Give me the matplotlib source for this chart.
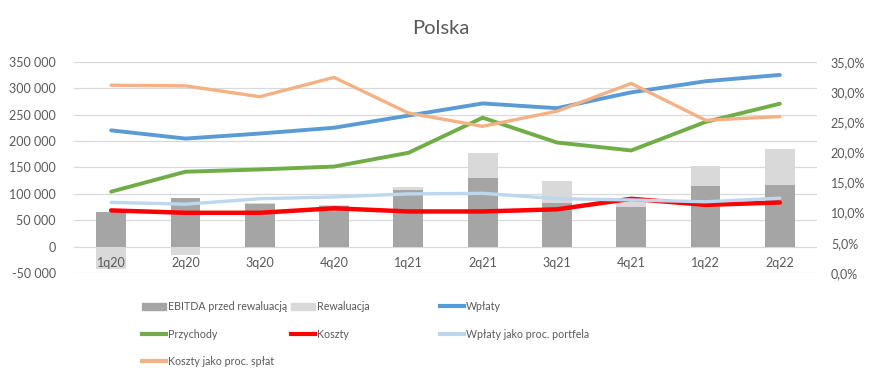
import matplotlib
matplotlib.use("Agg")
import matplotlib.pyplot as plt
import matplotlib.patches as mpatches
import matplotlib.lines as mlines
from matplotlib.ticker import FuncFormatter
import numpy as np

plt.rcParams["font.family"] = ["Lato", "DejaVu Sans"]

TEXT = "#595959"
GRID = "#D9D9D9"
DARK_GREY = "#A5A5A5"
LIGHT_GREY = "#D9D9D9"
BLUE = "#5B9BD5"
GREEN = "#70AD47"
RED = "#FF0000"
LIGHT_BLUE = "#BDD7EE"
ORANGE = "#F4B183"

quarters = ["1q20", "2q20", "3q20", "4q20", "1q21", "2q21", "3q21", "4q21", "1q22", "2q22"]
ebitda = [66000, 92500, 81000, 76000, 108000, 129000, 82500, 75000, 115000, 117000]
rewaluacja = [-42000, -15000, 2000, 2000, 4000, 48500, 42000, 15000, 38000, 68000]
wplaty = [220000, 204500, 214000, 225000, 248000, 271000, 262000, 292000, 313000, 325000]
przychody = [104000, 141700, 146000, 151500, 177500, 244000, 197000, 182000, 236000, 270500]
koszty = [68500, 64000, 64000, 72500, 66500, 66500, 70500, 90500, 79000, 83500]
wplaty_pct = [0.117, 0.114, 0.123, 0.126, 0.131, 0.132, 0.123, 0.121, 0.118, 0.124]
koszty_pct = [0.311, 0.310, 0.292, 0.324, 0.265, 0.243, 0.268, 0.314, 0.253, 0.259]

x = np.arange(len(quarters))
reval_bottom = [e if r > 0 else 0 for e, r in zip(ebitda, rewaluacja)]

fig = plt.figure(figsize=(8.81, 3.85), dpi=100)
ax = fig.add_axes([74 / 881, 1 - 273 / 385, (817 - 74) / 881, (273 - 61.7) / 385])
ax2 = ax.twinx()

ax.bar(x, ebitda, 0.4, color=DARK_GREY, zorder=2)
ax.bar(x, rewaluacja, 0.4, bottom=reval_bottom, color=LIGHT_GREY, zorder=2)
ax.plot(x, wplaty, color=BLUE, lw=2.8, zorder=3, solid_capstyle="round")
ax.plot(x, przychody, color=GREEN, lw=2.8, zorder=3, solid_capstyle="round")
ax.plot(x, koszty, color=RED, lw=3.2, zorder=3, solid_capstyle="round")
ax2.plot(x, wplaty_pct, color=LIGHT_BLUE, lw=2.4, solid_capstyle="round")
ax2.plot(x, koszty_pct, color=ORANGE, lw=2.4, solid_capstyle="round")

ax.set_xlim(-0.5, len(quarters) - 0.5)
ax.set_ylim(-50000, 350000)
ax.set_yticks(np.arange(-50000, 350001, 50000))
ax.yaxis.set_major_formatter(FuncFormatter(lambda v, p: f"{v:,.0f}".replace(",", " ")))
ax2.set_ylim(0, 0.35)
ax2.set_yticks(np.arange(0, 0.3501, 0.05))
ax2.yaxis.set_major_formatter(FuncFormatter(lambda v, p: f"{v * 100:.1f}%".replace(".", ",")))

ax.grid(axis="y", color=GRID, lw=0.9, zorder=0)
ax.set_axisbelow(True)
for a in (ax, ax2):
    for s in a.spines.values():
        s.set_visible(False)
ax.set_xticks(x)
ax.set_xticklabels([])
ax.tick_params(axis="x", length=0)
ax.tick_params(axis="y", length=0, pad=13, labelsize=9, colors=TEXT)
ax2.tick_params(axis="y", length=0, pad=10, labelsize=9, colors=TEXT)

# category labels sit inside the plot area, on top of the bars (Excel style)
for xi, q in zip(x, quarters):
    ax2.text(xi, 0.048, q, transform=ax2.get_xaxis_transform(), ha="center", va="center",
             fontsize=9, color=TEXT, zorder=5)

fig.text(0.5, 1 - 28 / 385, "Polska", ha="center", va="center", fontsize=14.5, color=TEXT)

# legend laid out in three fixed columns like Excel
col1 = [mpatches.Patch(color=DARK_GREY, label="EBITDA przed rewaluacją"),
        mlines.Line2D([], [], color=GREEN, lw=3, label="Przychody"),
        mlines.Line2D([], [], color=ORANGE, lw=3, label="Koszty jako proc. spłat")]
col2 = [mpatches.Patch(color=LIGHT_GREY, label="Rewaluacja"),
        mlines.Line2D([], [], color=RED, lw=3, label="Koszty")]
col3 = [mlines.Line2D([], [], color=BLUE, lw=3, label="Wpłaty"),
        mlines.Line2D([], [], color=LIGHT_BLUE, lw=3, label="Wpłaty jako proc. portfela")]
for handles, xpos in [(col1, 142), (col2, 291), (col3, 440)]:
    leg = fig.legend(handles=handles, loc="upper left", bbox_to_anchor=(xpos / 881, 1 - 301 / 385),
                     frameon=False, fontsize=7.7, handlelength=2.2, handleheight=0.65,
                     handletextpad=0.25, labelspacing=1.55, borderaxespad=0, borderpad=0)
    for t in leg.get_texts():
        t.set_color(TEXT)

fig.savefig("out.png", dpi=100, facecolor="white")
